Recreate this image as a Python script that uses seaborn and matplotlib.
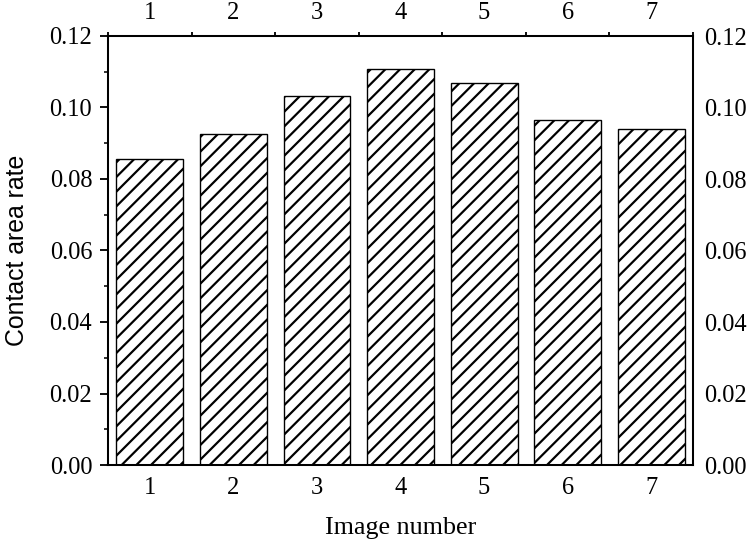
import matplotlib
matplotlib.use("Agg")
import matplotlib.pyplot as plt
import seaborn as sns
import numpy as np
from matplotlib.ticker import FixedLocator, MultipleLocator, NullFormatter

# Data
image_numbers = ["1", "2", "3", "4", "5", "6", "7"]
contact_area_rate = [0.0856, 0.0926, 0.1033, 0.1108, 0.1068, 0.0966, 0.0940]
y_ticks = [0.00, 0.02, 0.04, 0.06, 0.08, 0.10, 0.12]

DPI = 132
sns.set_theme(style="ticks")
plt.rcParams['font.family'] = ['Liberation Serif', 'DejaVu Serif']
plt.rcParams['hatch.linewidth'] = 1.2
plt.rcParams['hatch.color'] = 'black'

fig = plt.figure(figsize=(750 / DPI, 542 / DPI), dpi=DPI)
ax = fig.add_axes([108 / 750, 1 - 465 / 542, (693 - 108) / 750, (465 - 36) / 542])

sns.barplot(x=image_numbers, y=contact_area_rate, ax=ax, color='white',
            edgecolor='black', linewidth=0.75, width=0.8, hatch='///',
            saturation=1)

ax.set_xlim(-0.5, 6.5)
ax.set_ylim(0, 0.12)
ax.set_yticks(y_ticks)
ax.set_yticklabels([f"{v:.2f}" for v in y_ticks])
ax.yaxis.set_minor_locator(MultipleLocator(0.01))

for sp in ax.spines.values():
    sp.set_visible(True)
    sp.set_linewidth(1.1)
    sp.set_color('black')

tick_fs = 13.4
ax.tick_params(axis='y', which='major', direction='out', length=4.4, width=1.0,
               left=True, right=False, labelleft=True, labelright=False,
               labelsize=tick_fs, pad=4.2, colors='black')
ax.tick_params(axis='y', which='minor', direction='out', length=2.3, width=1.0,
               left=True, right=False)
ax.tick_params(axis='x', which='major', direction='in', length=2.2, width=1.0,
               bottom=True, top=False, labelsize=tick_fs, pad=6.5, colors='black')

ax.set_xlabel("Image number", fontsize=14.2, labelpad=10, color='black')
ax.set_ylabel("Contact area rate", fontsize=13.6, labelpad=11, color='black',
              family=['Liberation Sans', 'DejaVu Sans'])

# Right axis (labels only)
axr = ax.twinx()
axr.set_ylim(ax.get_ylim())
axr.set_yticks(y_ticks)
axr.set_yticklabels([f"{v:.2f}" for v in y_ticks])
axr.tick_params(axis='y', which='both', length=0, labelsize=tick_fs, pad=6.3,
                colors='black', right=True, labelright=True)
axr.grid(False)

# Top axis
axt = ax.twiny()
axt.set_xlim(ax.get_xlim())
axt.xaxis.set_major_locator(FixedLocator(np.arange(-0.5, 7.0, 1.0)))
axt.xaxis.set_major_formatter(NullFormatter())
axt.xaxis.set_minor_locator(FixedLocator(np.arange(0, 7)))
axt.set_xticklabels(image_numbers, minor=True)
axt.tick_params(axis='x', which='major', direction='out', length=2.2, width=1.0,
                top=True, bottom=False, colors='black')
axt.tick_params(axis='x', which='minor', length=0, labelsize=tick_fs, pad=6.5,
                colors='black')

for a in (axr, axt):
    for sp in a.spines.values():
        sp.set_linewidth(1.1)
        sp.set_color('black')

fig.savefig("out.png", dpi=DPI)
